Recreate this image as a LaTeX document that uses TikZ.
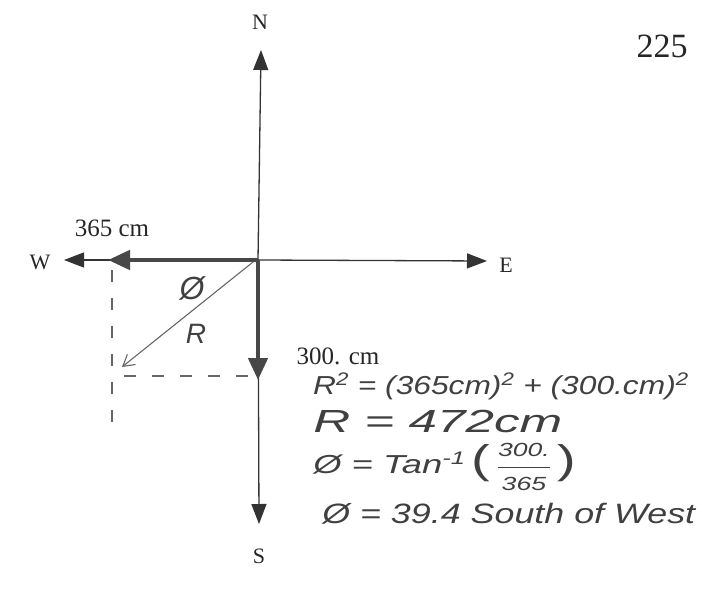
\documentclass[tikz,border=0pt]{standalone}
\usepackage{amsmath}
\usepackage{fontspec}
\setmainfont{Liberation Serif}
\newfontfamily\handfont{Liberation Sans}
\usetikzlibrary{arrows.meta,calc,positioning}
\tikzset{
    axisline/.style={line width=1.3pt,draw=black!80,-{Triangle[length=20pt,width=15pt]}},
    compline/.style={line width=4.5pt,draw=black!72,-{Triangle[length=22pt,width=19pt]}},
    resline/.style={line width=1.1pt,draw=black!60,-{Straight Barb[length=11pt,width=13pt]}},
    guideline/.style={line width=1.1pt,draw=black!60,dash pattern=on 12pt off 16pt},
    dirlabel/.style={font=\fontsize{22}{24}\selectfont,text=black!85},
    vallabel/.style={font=\fontsize{25}{27}\selectfont,text=black!85},
    handnote/.style={font=\handfont\itshape\fontsize{26}{28}\selectfont,text=black!75,anchor=west,inner sep=0pt},
}
\newcommand{\bigparen}[1]{{\fontsize{40}{40}\selectfont\upshape #1}}

\begin{document}
\begin{tikzpicture}[x=1pt,y=-1pt]
  \useasboundingbox (0,0) rectangle (711,604);

  % axes
  \coordinate (O) at (258,260);
  \coordinate (nTip) at (261,50);
  \coordinate (sTip) at (259,524);
  \coordinate (wTip) at (64,260);
  \coordinate (eTip) at (487,261);
  \draw[axisline] (O) -- (nTip);
  \draw[axisline] (O) -- (sTip);
  \draw[axisline] (O) -- (wTip);
  \draw[axisline] (O) -- (eTip);

  \node[dirlabel] (north) at (260,22)  {N};
  \node[dirlabel] (south) at (259,556) {S};
  \node[dirlabel] (west)  at (40,262)  {W};
  \node[dirlabel] (east)  at (506,265) {E};
  \node[font=\fontsize{34}{36}\selectfont,text=black!85] (page) at (662,46) {225};

  % components and resultant
  \coordinate (wComp) at (108,260);
  \coordinate (sComp) at (258,380);
  \coordinate (rStart) at (253,262);
  \coordinate (rTip) at (122,367);
  \draw[compline] (O) -- (wComp);
  \draw[compline] (O) -- (sComp);
  \draw[resline] (rStart) -- (rTip);

  % dashed completion of the rectangle
  \coordinate (dTop) at (112,270);
  \coordinate (dBot) at (112,422);
  \coordinate (dLeft) at (124,376);
  \coordinate (dRight) at (250,376);
  \draw[guideline] (dTop) -- (dBot);
  \draw[guideline] (dLeft) -- (dRight);

  \node[vallabel] (wVal) at (112,228) {365 cm};
  \node[vallabel] (sVal) at (338,356) {300. cm};
  \node[handnote,anchor=center,font=\handfont\itshape\fontsize{32}{34}\selectfont] (phi) at (192,288) {Ø};
  \node[handnote,anchor=center,font=\handfont\itshape\fontsize{28}{30}\selectfont] (rLbl) at (196,334) {R};

  % worked solution
  \node[handnote,xscale=1.22] (eq1) at (313,386) {R\textsuperscript{2} = (365cm)\textsuperscript{2} + (300.cm)\textsuperscript{2}};
  \node[handnote,xscale=1.6,font=\handfont\itshape\fontsize{32}{34}\selectfont] (eq2) at (313,421) {R = 472cm};
  \node[handnote,xscale=1.4] (eq3) at (313,467) {Ø = Tan\textsuperscript{-1}\,\bigparen{(}$\,\genfrac{}{}{0.8pt}{0}{\mbox{\fontsize{19}{21}\selectfont 300.}}{\mbox{\fontsize{19}{21}\selectfont 365}}\,$\bigparen{)}};
  \node[handnote,xscale=1.28,font=\handfont\itshape\fontsize{28}{30}\selectfont] (eq4) at (322,514) {Ø = 39.4 South of West};
\end{tikzpicture}
\end{document}
